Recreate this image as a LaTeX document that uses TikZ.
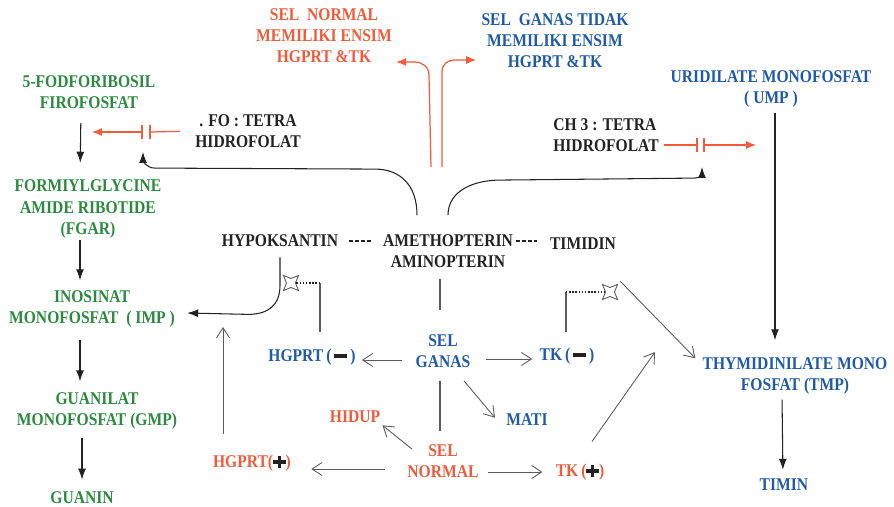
\documentclass[tikz,border=0pt]{standalone}
\usepackage{fontspec}
\setmainfont{Liberation Serif}[FakeStretch=0.87]
\usepackage{tikz}
\usetikzlibrary{arrows.meta,shapes.geometric}
\definecolor{pathgreen}{HTML}{2B8A3E}
\definecolor{pathblue}{HTML}{1F5AA8}
\definecolor{pathred}{HTML}{EF5B3B}
\definecolor{pathink}{HTML}{222222}
\definecolor{pathgray}{HTML}{5C5C5C}
\newdimen\pxu \pxu=0.02cm
\newcommand\minusmark{{\color{pathink}\rule[0.2em]{0.72em}{0.2em}}}
\newcommand\plusmark{{\color{pathink}\rlap{\rule[0.21em]{0.7em}{0.19em}}\hspace{0.255em}\rule[-0.045em]{0.19em}{0.7em}\hspace{0.255em}}}
\tikzset{
  txt/.style={
    align=center,
    inner sep=0pt,
    font=\fontsize{10.2}{12}\selectfont\bfseries
  },
  greentxt/.style={txt, text=pathgreen},
  bluetxt/.style={txt, text=pathblue},
  redtxt/.style={txt, text=pathred},
  inktxt/.style={txt, text=pathink},
  flow/.style={
    -{Latex[length=2.2mm,width=1.6mm]},
    draw=pathink,
    line width=0.6pt
  },
  branch/.style={
    -{Straight Barb[length=2mm,width=2.6mm]},
    draw=pathgray,
    line width=0.5pt
  },
  stem/.style={draw=pathgray, line width=0.6pt},
  block/.style={
    -{Latex[length=2mm,width=1.6mm]},
    draw=pathred,
    line width=0.7pt
  },
  blockline/.style={draw=pathred, line width=0.7pt},
  dotlink/.style={draw=pathink, line width=0.8pt, densely dotted},
  dashlink/.style={draw=pathink, line width=1.4pt, dash pattern=on 2.3pt off 1.1pt},
  sitemark/.style={
    star, star points=4, star point ratio=0.42,
    minimum size=9\pxu, inner sep=0pt,
    draw=pathgray, fill=white, line width=0.5pt
  }
}

\begin{document}
\begin{tikzpicture}[x=1\pxu, y=-1\pxu]
\useasboundingbox (0,0) rectangle (894,507);

% notes at the top
\node[redtxt] (normnote) at (324,36) {SEL\ \ NORMAL\\MEMILIKI ENSIM\\HGPRT \&TK};
\node[bluetxt] (ganasnote) at (555,41) {SEL\ \ GANAS TIDAK\\MEMILIKI ENSIM\\HGPRT \&TK};

% purine side
\node[greentxt] (prpp) at (89,92) {5-FODFORIBOSIL\\FIROFOSFAT};
\node[greentxt] (fgar) at (88,209) {FORMIYLGLYCINE\\AMIDE RIBOTIDE\\(FGAR)};
\node[greentxt] (imp) at (92,309) {INOSINAT\\MONOFOSFAT\ \ ( IMP )};
\node[greentxt] (gmp) at (97,411) {GUANILAT\\MONOFOSFAT (GMP)};
\node[greentxt] (guanin) at (82,498) {GUANIN};
\node[inktxt] (fothf) at (248,131) {. FO : TETRA\\HIDROFOLAT};

% pyrimidine side
\node[bluetxt] (ump) at (771,89) {URIDILATE MONOFOSFAT\\( UMP )};
\node[inktxt, align=left] (chthf) at (606,135) {CH 3 : TETRA\\HIDROFOLAT};
\node[bluetxt] (tmp) at (795,376) {THYMIDINILATE MONO\\FOSFAT (TMP)};
\node[bluetxt] (timin) at (784,485) {TIMIN};

% drug and salvage
\node[inktxt] (hypo) at (280,241) {HYPOKSANTIN};
\node[inktxt] (amet) at (448,251) {AMETHOPTERIN\\AMINOPTERIN};
\node[inktxt] (timidin) at (583,244) {TIMIDIN};

% cells
\node[bluetxt] (ganas) at (443,351) {SEL\\GANAS};
\node[bluetxt] (hgprtm) at (312,357) {HGPRT\,(\,\minusmark\,)};
\node[bluetxt] (tkm) at (567,356) {TK\,(\,\minusmark\,)};
\node[bluetxt] (mati) at (527,420) {MATI};
\node[redtxt] (normal) at (443,461) {SEL\\NORMAL};
\node[redtxt] (hidup) at (355,417) {HIDUP};
\node[redtxt] (hgprtp) at (252,463) {HGPRT(\plusmark)};
\node[redtxt] (tkp) at (580,472) {TK\,(\plusmark)};

\node[sitemark] (hgmark) at (291,283) {};
\node[sitemark] (tkmark) at (610,292) {};
\coordinate (hgcorner) at (320,283);
\coordinate (tkcorner) at (566,292);

% free ends
\coordinate (fobarA) at (150,132);
\coordinate (fobarB) at (142,132);
\coordinate (fotip) at (92,132);
\coordinate (chbarA) at (697,145);
\coordinate (chbarB) at (704,145);
\coordinate (chtip) at (756,145);
\coordinate (foup) at (143,152);
\coordinate (chup) at (702,167);
\coordinate (normroot) at (431,167);
\coordinate (ganasroot) at (442,167);
\coordinate (hgup) at (223,327);
\coordinate (tkup) at (655,352);

% purine chain
\draw[flow, shorten <=14\pxu, shorten >=17\pxu] ([xshift=-8\pxu]prpp.south) -- ([xshift=-8\pxu]fgar.north);
\draw[flow, shorten <=2\pxu, shorten >=10\pxu] ([xshift=-8\pxu]fgar.south) -- ([xshift=-12\pxu]imp.north);
\draw[flow, shorten <=12\pxu, shorten >=11\pxu] ([xshift=-12\pxu]imp.south) -- ([xshift=-17\pxu]gmp.north);
\draw[flow, shorten <=8\pxu, shorten >=12\pxu] ([xshift=-15\pxu]gmp.south) -- (guanin.north);

% blocked folate steps
\draw[blockline, shorten <=15\pxu] (fothf.west) -- (fobarA);
\draw[blockline] ([yshift=7\pxu]fobarA) -- ([yshift=-7\pxu]fobarA);
\draw[blockline] ([yshift=7\pxu]fobarB) -- ([yshift=-7\pxu]fobarB);
\draw[block] (fobarB) -- (fotip);
\draw[blockline, shorten <=5\pxu] ([yshift=-10\pxu]chthf.east) -- (chbarA);
\draw[blockline] ([yshift=7\pxu]chbarA) -- ([yshift=-7\pxu]chbarA);
\draw[blockline] ([yshift=7\pxu]chbarB) -- ([yshift=-7\pxu]chbarB);
\draw[block] (chbarB) -- (chtip);

% drug acts on both folate steps
\draw[flow] ([xshift=-31\pxu,yshift=19\pxu]amet.north) .. controls +(0,-30) and +(25,0) .. ++(-42,-46)
  -- ++(-220,-1) .. controls +(-9,0) and +(0,8) .. (foup);
\draw[flow] ([yshift=19\pxu]amet.north) .. controls +(0,-25) and +(-25,0) .. ++(52,-35)
  -- ++(195,-2) .. controls +(6,0) and +(0,6) .. (chup);
\draw[dashlink, shorten <=11\pxu, shorten >=12\pxu] (hypo.east) -- (hypo.east -| amet.west);
\draw[dashlink, shorten <=3\pxu, shorten >=13\pxu] (amet.east |- hypo.east) -- (timidin.west |- hypo.east);

% red notes
\draw[block] (normroot) -- ++(-2,-92) .. controls +(0,-9) and +(6,0) .. ++(-14,-13)
  -- ([xshift=4\pxu,yshift=-26\pxu]normnote.east);
\draw[block] (ganasroot) -- ++(0,-95) .. controls +(0,-8) and +(-6,0) .. ++(12,-12)
  -- ([xshift=-5\pxu,yshift=-19\pxu]ganasnote.west);

% pyrimidine chain
\draw[flow, shorten <=5\pxu, shorten >=17\pxu] ([xshift=4\pxu]ump.south) -- ([xshift=-20\pxu]tmp.north);
\draw[flow, shorten <=5\pxu, shorten >=9\pxu] ([xshift=-13\pxu]tmp.south) -- ([xshift=-1\pxu]timin.north);

% cells
\draw[stem, shorten <=11\pxu, shorten >=24\pxu] ([xshift=-8\pxu]amet.south) -- ([xshift=-3\pxu]ganas.north);
\draw[stem, shorten <=13\pxu, shorten >=13\pxu] ([xshift=-3\pxu]ganas.south) -- ([xshift=-3\pxu]normal.north);
\draw[branch, shorten <=13\pxu, shorten >=6\pxu] ([yshift=-9\pxu]ganas.west) -- ([yshift=-3\pxu]hgprtm.east);
\draw[branch, shorten <=15\pxu, shorten >=7\pxu] ([yshift=-8\pxu]ganas.east) -- ([yshift=-3\pxu]tkm.west);
\draw[branch] ([xshift=21\pxu,yshift=-13\pxu]ganas.south) -- ([xshift=-32\pxu,yshift=-4\pxu]mati.north);
\draw[branch] ([xshift=-31\pxu,yshift=-5\pxu]normal.north) -- ([xshift=2\pxu,yshift=-2\pxu]hidup.south east);
\draw[branch, shorten <=22\pxu, shorten >=20\pxu] ([yshift=-8\pxu]normal.west) -- ([yshift=-6\pxu]hgprtp.east);
\draw[branch, shorten <=9\pxu, shorten >=13\pxu] ([yshift=-11\pxu]normal.east) -- (tkp.west);

% salvage routes
\draw[branch, shorten <=21\pxu] ([xshift=-29\pxu]hgprtp.north) -- (hgup);
\draw[flow] ([yshift=-10\pxu]hypo.south) -- ++(0,28) .. controls +(0,20) and +(20,0) .. ++(-32,29)
  -- ([xshift=12\pxu,yshift=-4\pxu]imp.east);
\draw[stem, shorten <=17\pxu] (hgprtm.north -| hgcorner) -- (hgcorner);
\draw[dotlink] (hgcorner) -- (hgmark);
\draw[stem, shorten <=16\pxu] (tkm.north -| tkcorner) -- (tkcorner);
\draw[dotlink] (tkcorner) -- (tkmark);
\draw[branch] ([xshift=4\pxu,yshift=-31\pxu]timidin.south east) -- ([xshift=-7\pxu,yshift=-1\pxu]tmp.north west);
\draw[branch] ([xshift=12\pxu,yshift=22\pxu]tkp.north) -- (tkup);
\end{tikzpicture}
\end{document}
